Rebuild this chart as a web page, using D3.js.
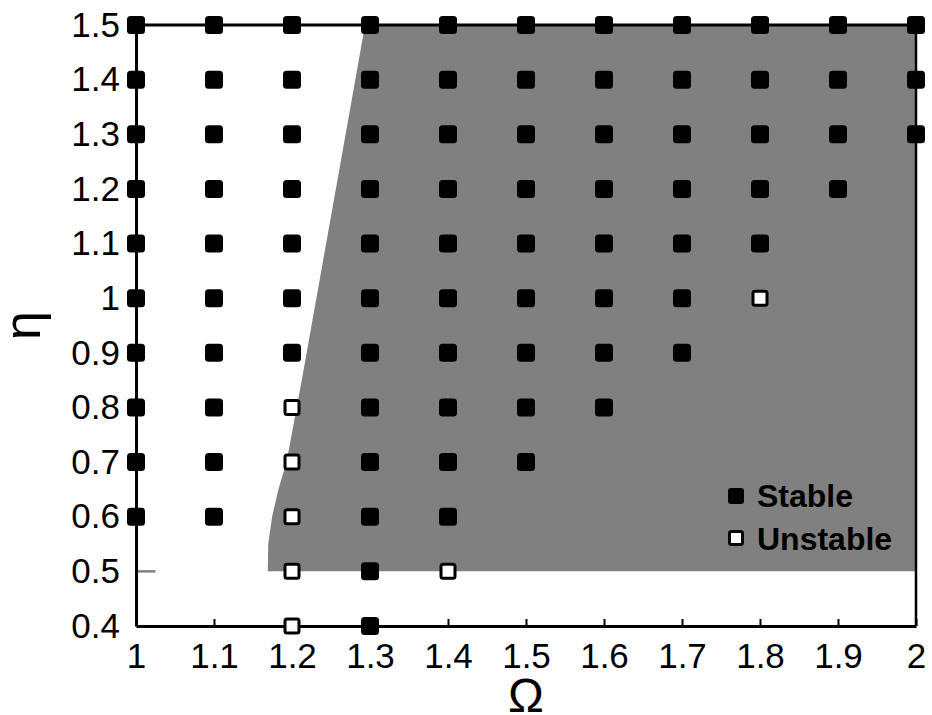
<!DOCTYPE html>
<html><head><meta charset="utf-8">
<script src="https://cdn.jsdelivr.net/npm/d3@7"></script>
<style>body{margin:0;background:#fff}svg{display:block}text{font-family:"Liberation Sans",Arial,sans-serif}</style>
</head><body>
<svg id="c" width="932" height="715"></svg>
<script>
// ---- data ----
const omegaTicks = [1.0,1.1,1.2,1.3,1.4,1.5,1.6,1.7,1.8,1.9,2.0];
const omegaTickLabels = ["1","1.1","1.2","1.3","1.4","1.5","1.6","1.7","1.8","1.9","2"];
const etaTicks = [0.4,0.5,0.6,0.7,0.8,0.9,1.0,1.1,1.2,1.3,1.4,1.5];
const etaTickLabels = ["0.4","0.5","0.6","0.7","0.8","0.9","1","1.1","1.2","1.3","1.4","1.5"];
// stable points: eta values per omega column
const stableOmega = [1.0,1.1,1.2,1.3,1.4,1.5,1.6,1.7,1.8,1.9,2.0];
const stableEta = [
  [0.6,0.7,0.8,0.9,1.0,1.1,1.2,1.3,1.4,1.5],
  [0.6,0.7,0.8,0.9,1.0,1.1,1.2,1.3,1.4,1.5],
  [0.9,1.0,1.1,1.2,1.3,1.4,1.5],
  [0.4,0.5,0.6,0.7,0.8,0.9,1.0,1.1,1.2,1.3,1.4,1.5],
  [0.6,0.7,0.8,0.9,1.0,1.1,1.2,1.3,1.4,1.5],
  [0.7,0.8,0.9,1.0,1.1,1.2,1.3,1.4,1.5],
  [0.8,0.9,1.0,1.1,1.2,1.3,1.4,1.5],
  [0.9,1.0,1.1,1.2,1.3,1.4,1.5],
  [1.1,1.2,1.3,1.4,1.5],
  [1.2,1.3,1.4,1.5],
  [1.3,1.4,1.5]
];
const unstableOmega = [1.2,1.2,1.2,1.2,1.2,1.4,1.8];
const unstableEta   = [0.4,0.5,0.6,0.7,0.8,0.5,1.0];
// left boundary of the shaded region
const boundaryEta   = [0.5,0.55,0.6,0.65,0.7,0.85,1.07,1.27,1.5];
const boundaryOmega = [1.169,1.1695,1.1745,1.1825,1.193,1.2125,1.240,1.265,1.2936];
const regionRightOmega = 2.0;
const stubOmega = [1.0,1.025];
const stubEta = 0.5;
const legendLabels = ["Stable","Unstable"];

// ---- chart ----
const svg = d3.select("#c");
const x = d3.scaleLinear().domain([1,2]).range([136,916]);
const y = d3.scaleLinear().domain([0.4,1.5]).range([626,25]);

// shaded region
const poly = boundaryEta.map((e,i)=>[x(boundaryOmega[i]), y(e)]);
poly.push([x(regionRightOmega), y(boundaryEta[boundaryEta.length-1])]);
poly.push([x(regionRightOmega), y(boundaryEta[0])]);
svg.append("path").attr("d", d3.line()(poly)+"Z").attr("fill","#808080");
svg.append("line").attr("x1",x(stubOmega[0])).attr("x2",x(stubOmega[1]))
  .attr("y1",y(stubEta)).attr("y2",y(stubEta)).attr("stroke","#808080").attr("stroke-width",2.5);

// axes box
const g = svg.append("g");
g.append("line").attr("x1",x(1)).attr("x2",x(2)).attr("y1",y(1.5)).attr("y2",y(1.5)).attr("stroke","#000").attr("stroke-width",3);
g.append("line").attr("x1",x(2)).attr("x2",x(2)).attr("y1",y(1.5)).attr("y2",y(0.4)).attr("stroke","#000").attr("stroke-width",2.5);

const xAxis = d3.axisBottom(x).tickValues(omegaTicks).tickFormat((d,i)=>omegaTickLabels[i]).tickSizeInner(-7).tickSizeOuter(0).tickPadding(17);
const xg = svg.append("g").attr("transform",`translate(0,${y(0.4)})`).call(xAxis);
xg.select(".domain").attr("stroke","#000").attr("stroke-width",3);
xg.selectAll(".tick line").attr("stroke","#000").attr("stroke-width",2);
xg.selectAll("text").attr("font-size",35).attr("fill","#000");

const yAxis = d3.axisLeft(y).tickValues(etaTicks).tickFormat((d,i)=>etaTickLabels[i]).tickSize(0).tickPadding(16);
const yg = svg.append("g").attr("transform",`translate(${x(1)},0)`).call(yAxis);
yg.select(".domain").attr("stroke","#000").attr("stroke-width",3);
yg.selectAll("text").attr("font-size",35).attr("fill","#000");

// markers
const S = 18;
const stablePts = [];
stableOmega.forEach((o,i)=>stableEta[i].forEach(e=>stablePts.push([o,e])));
svg.append("g").selectAll("rect").data(stablePts).join("rect")
  .attr("x",d=>x(d[0])-S/2).attr("y",d=>y(d[1])-S/2).attr("width",S).attr("height",S)
  .attr("rx",3.5).attr("fill","#000");
const U = 14;
svg.append("g").selectAll("rect").data(unstableOmega.map((o,i)=>[o,unstableEta[i]])).join("rect")
  .attr("x",d=>x(d[0])-U/2).attr("y",d=>y(d[1])-U/2).attr("width",U).attr("height",U)
  .attr("rx",2).attr("fill","#fff").attr("stroke","#000").attr("stroke-width",3);

// axis labels
svg.append("text").attr("x",(x(1)+x(2))/2).attr("y",712).attr("text-anchor","middle")
  .attr("font-size",48).text("Ω");
svg.append("text").attr("transform",`translate(40,${(y(0.4)+y(1.5))/2})rotate(-90)`).attr("text-anchor","middle")
  .attr("font-size",52).text("η");

// legend
const lg = svg.append("g");
lg.append("rect").attr("x",736-8).attr("y",496-8).attr("width",16).attr("height",16).attr("rx",3).attr("fill","#000");
lg.append("rect").attr("x",736-6.5).attr("y",538-6.5).attr("width",13).attr("height",13).attr("rx",2).attr("fill","#fff").attr("stroke","#000").attr("stroke-width",3);
lg.selectAll("text").data(legendLabels).join("text")
  .attr("x",757).attr("y",(d,i)=>i===0?507:550).attr("font-size",32).attr("font-weight","bold").text(d=>d);
</script>
</body></html>
